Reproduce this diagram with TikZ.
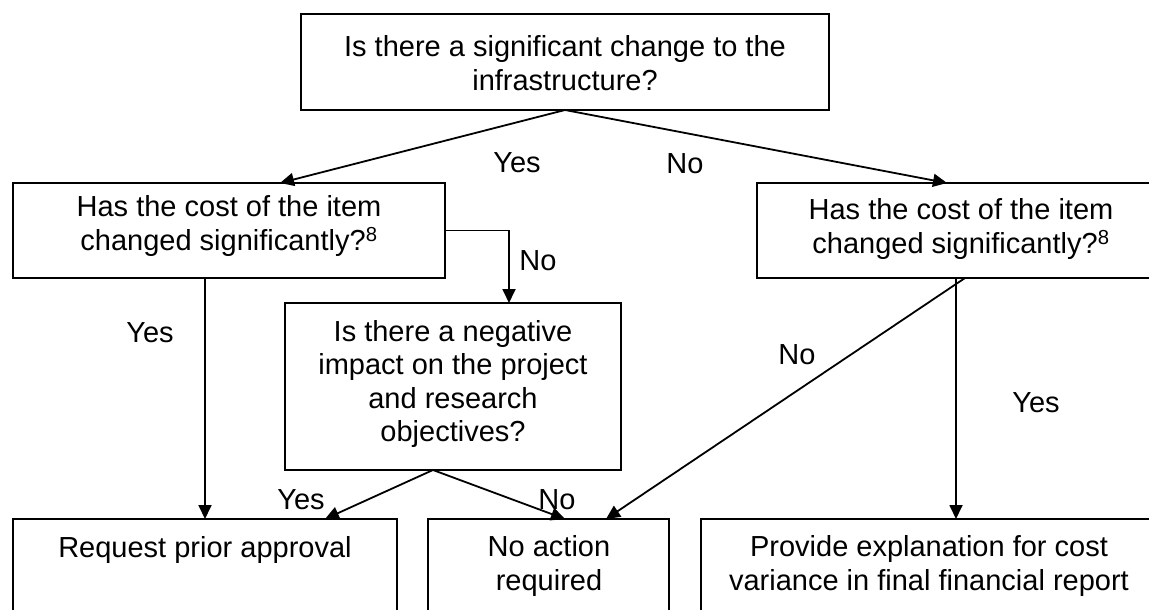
\documentclass[tikz,border=0pt]{standalone}
\usepackage{fontspec}
\setmainfont{Liberation Sans}
\usetikzlibrary{arrows.meta,calc}
\tikzset{
  box/.style={draw, line width=1.8pt, rectangle, inner sep=0pt, outer sep=0pt, anchor=north west},
  txt/.style={align=center, inner sep=0pt, font=\fontsize{29}{33.5}\selectfont},
  lbl/.style={inner sep=0pt, font=\fontsize{29}{33.5}\selectfont},
  arr/.style={line width=1.8pt, -{Triangle[length=14pt,width=13pt]}},
  ln/.style={line width=1.8pt}
}
\begin{document}
\begin{tikzpicture}[x=1pt,y=-1pt]
\useasboundingbox (0,0) rectangle (1149,610);
\clip (0,0) rectangle (1149,610);
% boxes
\node[box, minimum width=528pt, minimum height=96pt] (top) at (301,14) {};
\node[box, minimum width=432pt, minimum height=95pt] (lb) at (13,183) {};
\node[box, minimum width=408pt, minimum height=95pt] (rb) at (757,183) {};
\node[box, minimum width=336pt, minimum height=167pt] (mb) at (285,303) {};
\node[box, minimum width=384pt, minimum height=130pt] (b1) at (13,519) {};
\node[box, minimum width=241pt, minimum height=130pt] (b2) at (428,519) {};
\node[box, minimum width=456pt, minimum height=130pt] (b3) at (701,519) {};
% texts
\node[txt] (ttop) at (565,63) {Is there a significant change to the\\infrastructure?};
\node[txt] (tlb) at (229,226) {Has the cost of the item\\changed significantly?\textsuperscript{8}};
\node[txt] (trb) at (961,229) {Has the cost of the item\\changed significantly?\textsuperscript{8}};
\node[txt] (tmb) at (453,384) {Is there a negative\\impact on the project\\and research\\objectives?};
\node[txt] (tb1) at (205,550) {Request prior approval};
\node[txt] (tb2) at (549,566) {No action\\required};
\node[txt] (tb3) at (929,566) {Provide explanation for cost\\variance in final financial report};
% connectors
\draw[arr] (top.south) -- ([xshift=51pt]lb.north);
\draw[arr] (top.south) -- ([xshift=-14pt]rb.north);
\draw[arr] (lb.east) -| ([xshift=56pt]mb.north);
\draw[arr] ([xshift=-24pt]lb.south) -- (b1.north);
\draw[arr] ([xshift=-20pt]mb.south) -- ([xshift=120pt]b1.north);
\draw[arr] ([xshift=-20pt]mb.south) -- ([xshift=16.5pt]b2.north);
\draw[arr] ([xshift=4pt]rb.south) -- ([xshift=57.5pt]b2.north);
\draw[arr] ([xshift=-5pt]rb.south) -- ([xshift=27pt]b3.north);
% labels
\node[lbl] (l1) at (517,163) {Yes};
\node[lbl] (l2) at (685,164) {No};
\node[lbl] (l3) at (538,261) {No};
\node[lbl] (l4) at (150,333) {Yes};
\node[lbl] (l5) at (797,355) {No};
\node[lbl] (l6) at (1036,403) {Yes};
\node[lbl] (l7) at (301,500) {Yes};
\node[lbl] (l8) at (557,500) {No};
\end{tikzpicture}
\end{document}
